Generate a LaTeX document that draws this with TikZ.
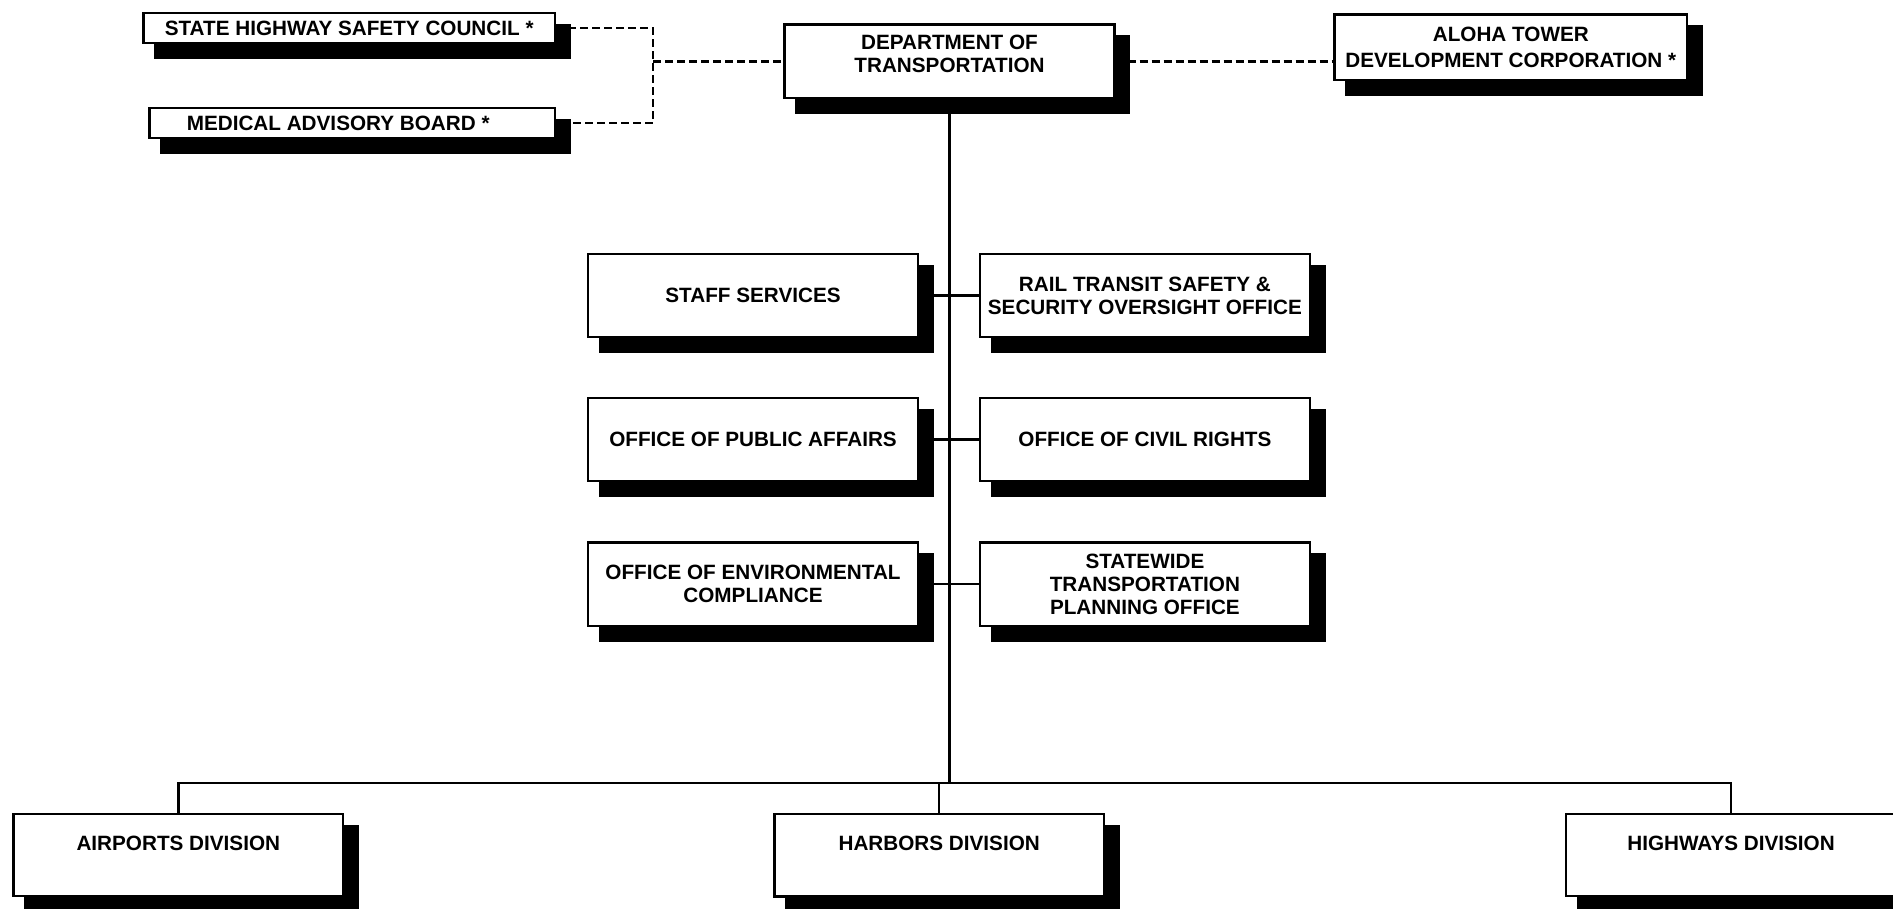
\documentclass[tikz,border=0pt]{standalone}
\usepackage{fontspec}
\setmainfont{Liberation Sans}
\usetikzlibrary{calc,backgrounds}
\begin{document}
\begin{tikzpicture}[x=1pt,y=-1pt,
  box/.style={draw=black, line width=2.4pt, fill=white, align=center, inner sep=0pt,
              font=\bfseries\fontsize{20.7}{23}\selectfont},
  midbox/.style={box, minimum width=330.2pt, minimum height=83.2pt},
  divbox/.style={box, minimum width=329.6pt, minimum height=82.2pt, text height=15pt, text depth=25pt},
  solidline/.style={line width=2.4pt},
  dashline/.style={line width=2.4pt, dash pattern=on 8pt off 4pt},
  shadowfill/.style={fill=black}
]
\useasboundingbox (0,0) rectangle (1893,908);

% top row
\node[box, minimum width=411.3pt, minimum height=30.2pt] (shsc) at (349.2,28) {STATE HIGHWAY SAFETY COUNCIL *};
\node[box, minimum width=405.3pt, minimum height=30.2pt] (mab) at (352.2,123) {MEDICAL ADVISORY BOARD *\hspace*{28pt}};
\node[box, minimum width=330pt, minimum height=73.6pt] (dot) at (949.5,61.3) {DEPARTMENT OF\\TRANSPORTATION\\[-8pt]~};
\node[box, minimum width=352.6pt, minimum height=65.3pt] (aloha) at (1510.8,47.2) {ALOHA TOWER\\[2.5pt]DEVELOPMENT CORPORATION *};

% staff offices
\node[midbox] (staff) at (753,295.5) {STAFF SERVICES};
\node[midbox] (rail) at (1144.9,295.5) {RAIL TRANSIT SAFETY \&\\SECURITY OVERSIGHT OFFICE};
\node[midbox] (opa) at (753,439.5) {OFFICE OF PUBLIC AFFAIRS};
\node[midbox] (ocr) at (1144.9,439.5) {OFFICE OF CIVIL RIGHTS};
\node[midbox] (oec) at (753,584.2) {OFFICE OF ENVIRONMENTAL\\COMPLIANCE};
\node[midbox] (stpo) at (1144.9,584.2) {STATEWIDE\\TRANSPORTATION\\PLANNING OFFICE};

% divisions
\node[divbox] (air) at (178.3,855) {AIRPORTS DIVISION};
\node[divbox] (harb) at (939.2,855.2) {HARBORS DIVISION};
\node[divbox] (hwy) at (1731,855) {HIGHWAYS DIVISION};

\coordinate (dj) at (653,61.3);
\coordinate (bus) at (949.5,782.7);

\begin{scope}[on background layer]
  % dashed advisory links
  \draw[dashline] (shsc.east) -| (dj) |- (mab.east);
  \draw[dashline] (dj) -- (dot.west);
  \draw[dashline] (dot.east) -- (dot.east -| aloha.west);
  % main trunk
  \draw[solidline] (dot.south) -- (bus);
  \draw[solidline] (staff.east) -- (rail.west);
  \draw[solidline] (opa.east) -- (ocr.west);
  \draw[solidline] (oec.east) -- (stpo.west);
  % division bus
  \draw[solidline] (air.north) |- (bus) -| (hwy.north);
  \draw[solidline] (harb.north) -- (harb.north |- bus);
  % shadows
  \foreach \n in {shsc,mab,dot,aloha,staff,rail,opa,ocr,oec,stpo,air,harb,hwy}
    \fill[shadowfill] ([xshift=12pt,yshift=-12pt]\n.north west) rectangle ([xshift=14.5pt,yshift=-14.5pt]\n.south east);
\end{scope}
\end{tikzpicture}
\end{document}
